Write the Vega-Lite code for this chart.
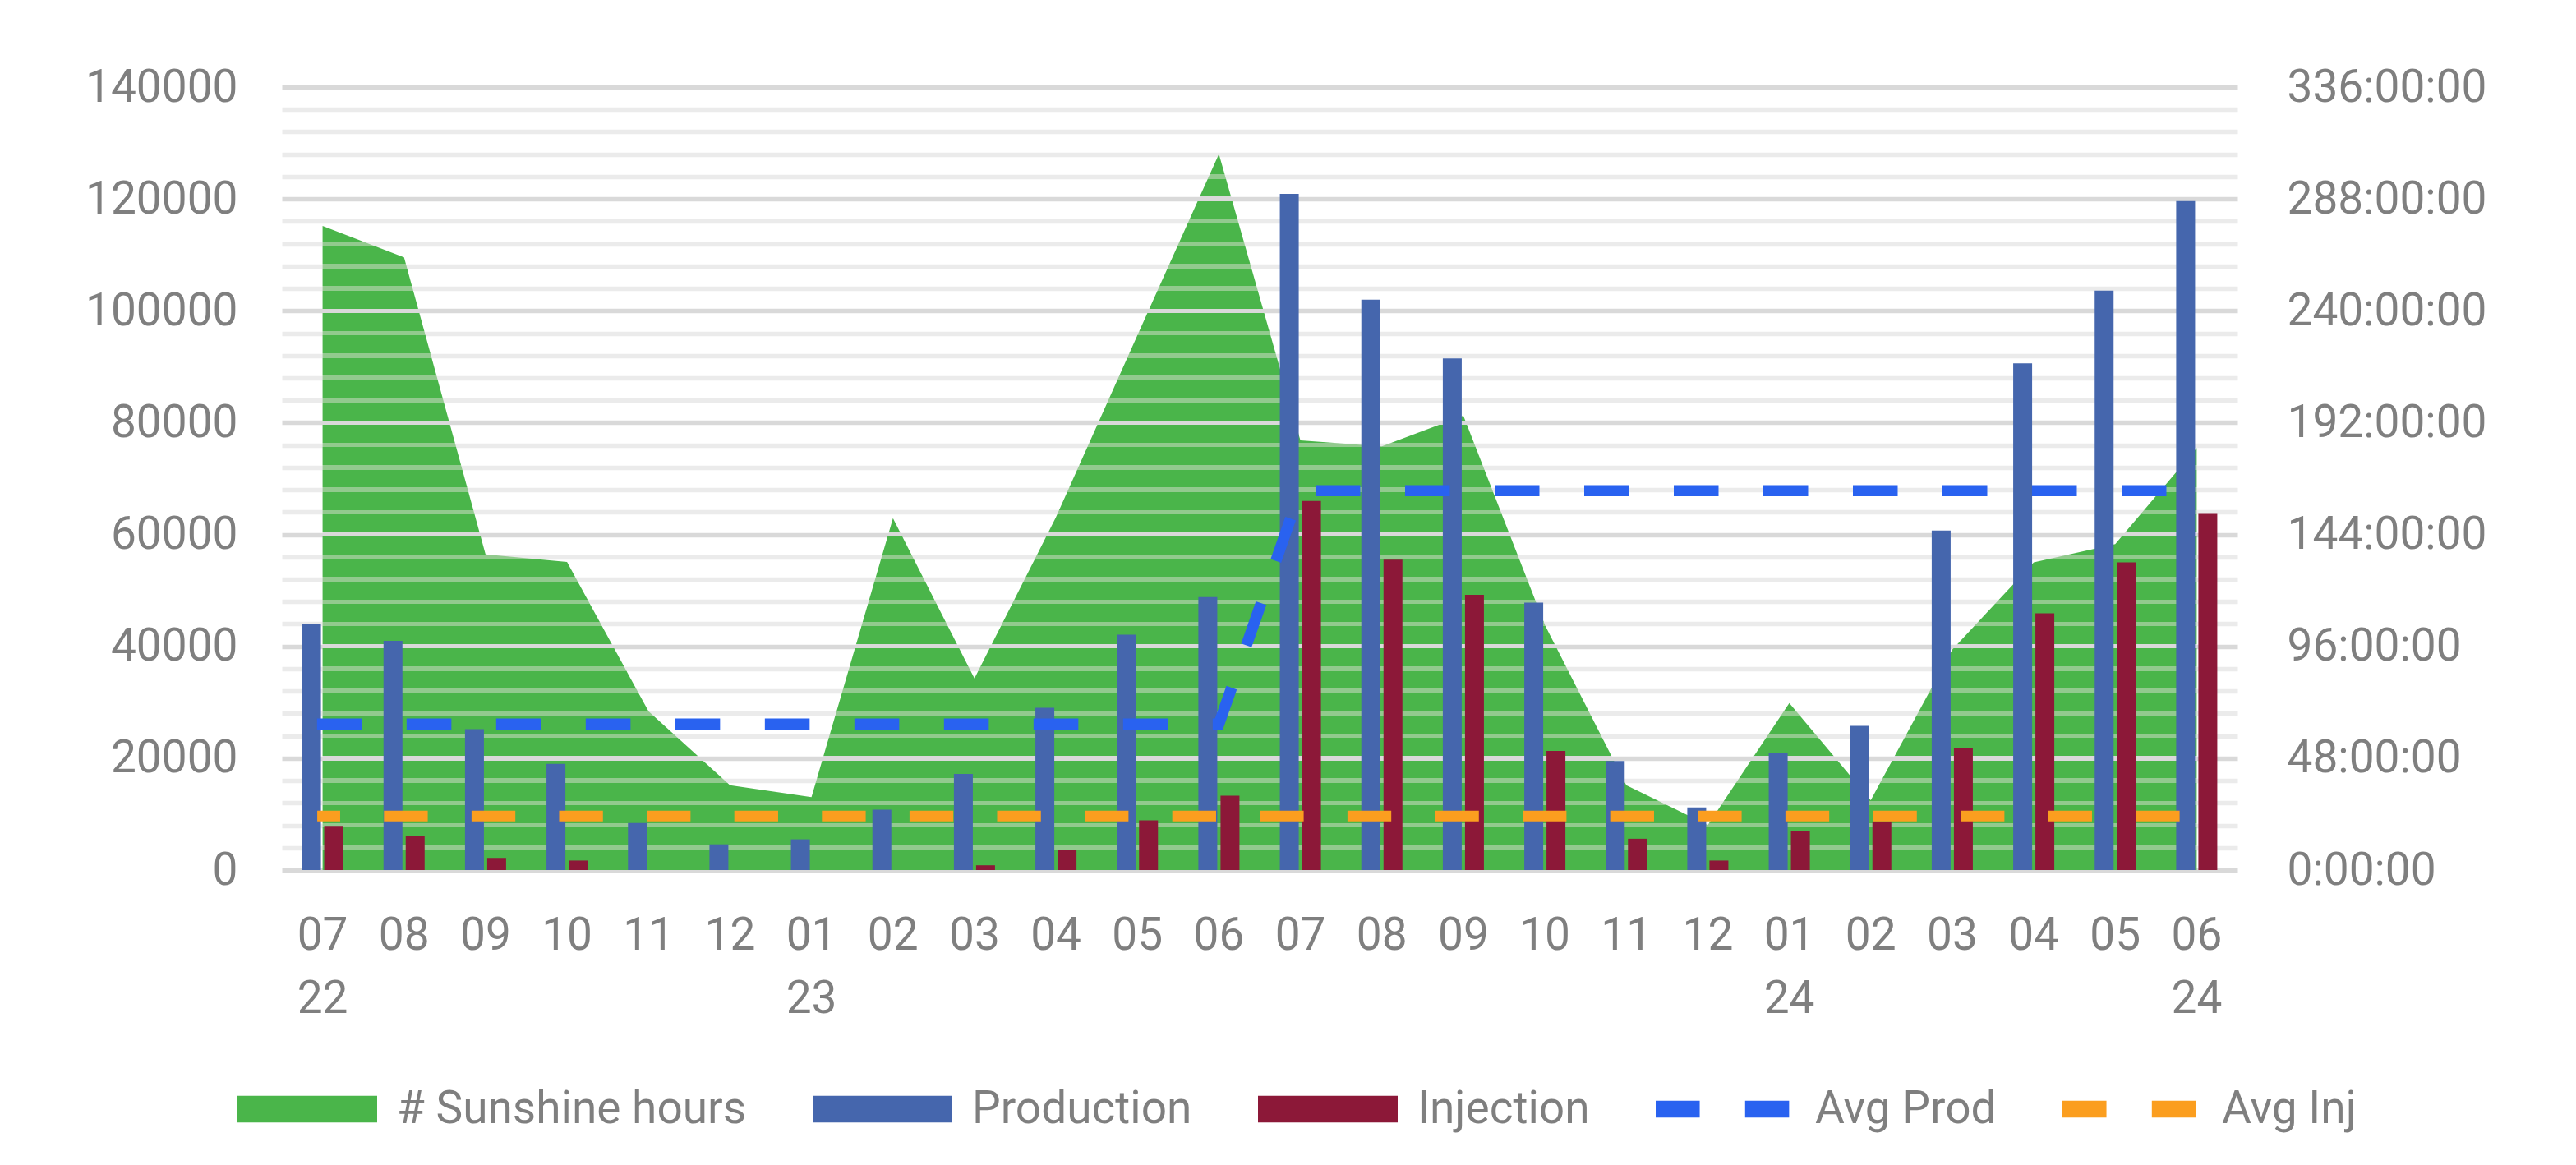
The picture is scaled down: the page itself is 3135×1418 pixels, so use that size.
{
  "$schema": "https://vega.github.io/schema/vega-lite/v6.json",
  "width": 2380,
  "height": 953,
  "autosize": {"type": "none"},
  "padding": {"left": 343, "top": 106, "right": 412, "bottom": 359},
  "background": "white",
  "datasets": {
    "main": [
      {"period": "2022-07", "series": "# Sunshine hours", "value": 276.4},
      {"period": "2022-08", "series": "# Sunshine hours", "value": 262.9},
      {"period": "2022-09", "series": "# Sunshine hours", "value": 135.5},
      {"period": "2022-10", "series": "# Sunshine hours", "value": 132.2},
      {"period": "2022-11", "series": "# Sunshine hours", "value": 68.1},
      {"period": "2022-12", "series": "# Sunshine hours", "value": 36.4},
      {"period": "2023-01", "series": "# Sunshine hours", "value": 31.3},
      {"period": "2023-02", "series": "# Sunshine hours", "value": 151.0},
      {"period": "2023-03", "series": "# Sunshine hours", "value": 82.2},
      {"period": "2023-04", "series": "# Sunshine hours", "value": 151.4},
      {"period": "2023-05", "series": "# Sunshine hours", "value": 229.5},
      {"period": "2023-06", "series": "# Sunshine hours", "value": 307.3},
      {"period": "2023-07", "series": "# Sunshine hours", "value": 184.4},
      {"period": "2023-08", "series": "# Sunshine hours", "value": 181.8},
      {"period": "2023-09", "series": "# Sunshine hours", "value": 195.0},
      {"period": "2023-10", "series": "# Sunshine hours", "value": 105.2},
      {"period": "2023-11", "series": "# Sunshine hours", "value": 36.4},
      {"period": "2023-12", "series": "# Sunshine hours", "value": 19.3},
      {"period": "2024-01", "series": "# Sunshine hours", "value": 71.7},
      {"period": "2024-02", "series": "# Sunshine hours", "value": 30.0},
      {"period": "2024-03", "series": "# Sunshine hours", "value": 94.6},
      {"period": "2024-04", "series": "# Sunshine hours", "value": 132.0},
      {"period": "2024-05", "series": "# Sunshine hours", "value": 139.9},
      {"period": "2024-06", "series": "# Sunshine hours", "value": 181.1},

      {"period": "2022-07", "series": "Production", "value": 44000},
      {"period": "2022-08", "series": "Production", "value": 41000},
      {"period": "2022-09", "series": "Production", "value": 25200},
      {"period": "2022-10", "series": "Production", "value": 19000},
      {"period": "2022-11", "series": "Production", "value": 8400},
      {"period": "2022-12", "series": "Production", "value": 4600},
      {"period": "2023-01", "series": "Production", "value": 5500},
      {"period": "2023-02", "series": "Production", "value": 10800},
      {"period": "2023-03", "series": "Production", "value": 17200},
      {"period": "2023-04", "series": "Production", "value": 29000},
      {"period": "2023-05", "series": "Production", "value": 42100},
      {"period": "2023-06", "series": "Production", "value": 48800},
      {"period": "2023-07", "series": "Production", "value": 120900},
      {"period": "2023-08", "series": "Production", "value": 102000},
      {"period": "2023-09", "series": "Production", "value": 91500},
      {"period": "2023-10", "series": "Production", "value": 47800},
      {"period": "2023-11", "series": "Production", "value": 19500},
      {"period": "2023-12", "series": "Production", "value": 11200},
      {"period": "2024-01", "series": "Production", "value": 21000},
      {"period": "2024-02", "series": "Production", "value": 25800},
      {"period": "2024-03", "series": "Production", "value": 60700},
      {"period": "2024-04", "series": "Production", "value": 90600},
      {"period": "2024-05", "series": "Production", "value": 103600},
      {"period": "2024-06", "series": "Production", "value": 119600},

      {"period": "2022-07", "series": "Injection", "value": 7900},
      {"period": "2022-08", "series": "Injection", "value": 6100},
      {"period": "2022-09", "series": "Injection", "value": 2150},
      {"period": "2022-10", "series": "Injection", "value": 1700},
      {"period": "2022-11", "series": "Injection", "value": 0},
      {"period": "2022-12", "series": "Injection", "value": 0},
      {"period": "2023-01", "series": "Injection", "value": 0},
      {"period": "2023-02", "series": "Injection", "value": 0},
      {"period": "2023-03", "series": "Injection", "value": 850},
      {"period": "2023-04", "series": "Injection", "value": 3550},
      {"period": "2023-05", "series": "Injection", "value": 8900},
      {"period": "2023-06", "series": "Injection", "value": 13300},
      {"period": "2023-07", "series": "Injection", "value": 66000},
      {"period": "2023-08", "series": "Injection", "value": 55500},
      {"period": "2023-09", "series": "Injection", "value": 49200},
      {"period": "2023-10", "series": "Injection", "value": 21300},
      {"period": "2023-11", "series": "Injection", "value": 5600},
      {"period": "2023-12", "series": "Injection", "value": 1700},
      {"period": "2024-01", "series": "Injection", "value": 7000},
      {"period": "2024-02", "series": "Injection", "value": 8700},
      {"period": "2024-03", "series": "Injection", "value": 21800},
      {"period": "2024-04", "series": "Injection", "value": 45900},
      {"period": "2024-05", "series": "Injection", "value": 55000},
      {"period": "2024-06", "series": "Injection", "value": 63700},

      {"period": "2022-07", "series": "Avg Prod", "value": 26100},
      {"period": "2022-08", "series": "Avg Prod", "value": 26100},
      {"period": "2022-09", "series": "Avg Prod", "value": 26100},
      {"period": "2022-10", "series": "Avg Prod", "value": 26100},
      {"period": "2022-11", "series": "Avg Prod", "value": 26100},
      {"period": "2022-12", "series": "Avg Prod", "value": 26100},
      {"period": "2023-01", "series": "Avg Prod", "value": 26100},
      {"period": "2023-02", "series": "Avg Prod", "value": 26100},
      {"period": "2023-03", "series": "Avg Prod", "value": 26100},
      {"period": "2023-04", "series": "Avg Prod", "value": 26100},
      {"period": "2023-05", "series": "Avg Prod", "value": 26100},
      {"period": "2023-06", "series": "Avg Prod", "value": 26100},
      {"period": "2023-07", "series": "Avg Prod", "value": 67850},
      {"period": "2023-08", "series": "Avg Prod", "value": 67850},
      {"period": "2023-09", "series": "Avg Prod", "value": 67850},
      {"period": "2023-10", "series": "Avg Prod", "value": 67850},
      {"period": "2023-11", "series": "Avg Prod", "value": 67850},
      {"period": "2023-12", "series": "Avg Prod", "value": 67850},
      {"period": "2024-01", "series": "Avg Prod", "value": 67850},
      {"period": "2024-02", "series": "Avg Prod", "value": 67850},
      {"period": "2024-03", "series": "Avg Prod", "value": 67850},
      {"period": "2024-04", "series": "Avg Prod", "value": 67850},
      {"period": "2024-05", "series": "Avg Prod", "value": 67850},
      {"period": "2024-06", "series": "Avg Prod", "value": 67850},

      {"period": "2022-07", "series": "Avg Inj", "value": 9650},
      {"period": "2022-08", "series": "Avg Inj", "value": 9650},
      {"period": "2022-09", "series": "Avg Inj", "value": 9650},
      {"period": "2022-10", "series": "Avg Inj", "value": 9650},
      {"period": "2022-11", "series": "Avg Inj", "value": 9650},
      {"period": "2022-12", "series": "Avg Inj", "value": 9650},
      {"period": "2023-01", "series": "Avg Inj", "value": 9650},
      {"period": "2023-02", "series": "Avg Inj", "value": 9650},
      {"period": "2023-03", "series": "Avg Inj", "value": 9650},
      {"period": "2023-04", "series": "Avg Inj", "value": 9650},
      {"period": "2023-05", "series": "Avg Inj", "value": 9650},
      {"period": "2023-06", "series": "Avg Inj", "value": 9650},
      {"period": "2023-07", "series": "Avg Inj", "value": 9650},
      {"period": "2023-08", "series": "Avg Inj", "value": 9650},
      {"period": "2023-09", "series": "Avg Inj", "value": 9650},
      {"period": "2023-10", "series": "Avg Inj", "value": 9650},
      {"period": "2023-11", "series": "Avg Inj", "value": 9650},
      {"period": "2023-12", "series": "Avg Inj", "value": 9650},
      {"period": "2024-01", "series": "Avg Inj", "value": 9650},
      {"period": "2024-02", "series": "Avg Inj", "value": 9650},
      {"period": "2024-03", "series": "Avg Inj", "value": 9650},
      {"period": "2024-04", "series": "Avg Inj", "value": 9650},
      {"period": "2024-05", "series": "Avg Inj", "value": 9650},
      {"period": "2024-06", "series": "Avg Inj", "value": 9650}
    ]
  },
  "data": {"name": "main"},
  "encoding": {
    "x": {
      "field": "period",
      "type": "ordinal",
      "title": null,
      "scale": {"type": "band", "paddingInner": 0, "paddingOuter": 0},
      "axis": {
        "domain": false,
        "ticks": false,
        "grid": false,
        "labelAngle": 0,
        "labelPadding": 53,
        "labelLineHeight": 77,
        "labelBaseline": "top",
        "labelExpr": "indexof(['2022-07','2023-01','2024-01','2024-06'], datum.value) >= 0 ? [substring(datum.value, 5, 7), substring(datum.value, 2, 4)] : substring(datum.value, 5, 7)"
      }
    }
  },
  "layer": [
    {
      "transform": [{"filter": "datum.series === '# Sunshine hours'"}],
      "mark": {
        "type": "area",
        "interpolate": "linear",
        "strokeWidth": 0,
        "fill": {
          "gradient": "linear",
          "x1": 0, "y1": 0, "x2": 0, "y2": 1,
          "stops": [
            {"offset": 0, "color": "#4ab54a"},
            {"offset": 0.02841, "color": "#4ab54a"}, {"offset": 0.02841, "color": "#92ca8e"}, {"offset": 0.03473, "color": "#92ca8e"}, {"offset": 0.03473, "color": "#4ab54a"},
            {"offset": 0.05965, "color": "#4ab54a"}, {"offset": 0.05965, "color": "#d9d9d9"}, {"offset": 0.06597, "color": "#d9d9d9"}, {"offset": 0.06597, "color": "#4ab54a"},
            {"offset": 0.09089, "color": "#4ab54a"}, {"offset": 0.09089, "color": "#92ca8e"}, {"offset": 0.09721, "color": "#92ca8e"}, {"offset": 0.09721, "color": "#4ab54a"},
            {"offset": 0.12213, "color": "#4ab54a"}, {"offset": 0.12213, "color": "#92ca8e"}, {"offset": 0.12845, "color": "#92ca8e"}, {"offset": 0.12845, "color": "#4ab54a"},
            {"offset": 0.15337, "color": "#4ab54a"}, {"offset": 0.15337, "color": "#92ca8e"}, {"offset": 0.15969, "color": "#92ca8e"}, {"offset": 0.15969, "color": "#4ab54a"},
            {"offset": 0.18461, "color": "#4ab54a"}, {"offset": 0.18461, "color": "#92ca8e"}, {"offset": 0.19093, "color": "#92ca8e"}, {"offset": 0.19093, "color": "#4ab54a"},
            {"offset": 0.21585, "color": "#4ab54a"}, {"offset": 0.21585, "color": "#d9d9d9"}, {"offset": 0.22217, "color": "#d9d9d9"}, {"offset": 0.22217, "color": "#4ab54a"},
            {"offset": 0.24709, "color": "#4ab54a"}, {"offset": 0.24709, "color": "#92ca8e"}, {"offset": 0.25341, "color": "#92ca8e"}, {"offset": 0.25341, "color": "#4ab54a"},
            {"offset": 0.27833, "color": "#4ab54a"}, {"offset": 0.27833, "color": "#92ca8e"}, {"offset": 0.28465, "color": "#92ca8e"}, {"offset": 0.28465, "color": "#4ab54a"},
            {"offset": 0.30957, "color": "#4ab54a"}, {"offset": 0.30957, "color": "#92ca8e"}, {"offset": 0.31589, "color": "#92ca8e"}, {"offset": 0.31589, "color": "#4ab54a"},
            {"offset": 0.34081, "color": "#4ab54a"}, {"offset": 0.34081, "color": "#92ca8e"}, {"offset": 0.34713, "color": "#92ca8e"}, {"offset": 0.34713, "color": "#4ab54a"},
            {"offset": 0.37205, "color": "#4ab54a"}, {"offset": 0.37205, "color": "#d9d9d9"}, {"offset": 0.37837, "color": "#d9d9d9"}, {"offset": 0.37837, "color": "#4ab54a"},
            {"offset": 0.40329, "color": "#4ab54a"}, {"offset": 0.40329, "color": "#92ca8e"}, {"offset": 0.40961, "color": "#92ca8e"}, {"offset": 0.40961, "color": "#4ab54a"},
            {"offset": 0.43453, "color": "#4ab54a"}, {"offset": 0.43453, "color": "#92ca8e"}, {"offset": 0.44085, "color": "#92ca8e"}, {"offset": 0.44085, "color": "#4ab54a"},
            {"offset": 0.46577, "color": "#4ab54a"}, {"offset": 0.46577, "color": "#92ca8e"}, {"offset": 0.47209, "color": "#92ca8e"}, {"offset": 0.47209, "color": "#4ab54a"},
            {"offset": 0.49701, "color": "#4ab54a"}, {"offset": 0.49701, "color": "#92ca8e"}, {"offset": 0.50333, "color": "#92ca8e"}, {"offset": 0.50333, "color": "#4ab54a"},
            {"offset": 0.52825, "color": "#4ab54a"}, {"offset": 0.52825, "color": "#d9d9d9"}, {"offset": 0.53457, "color": "#d9d9d9"}, {"offset": 0.53457, "color": "#4ab54a"},
            {"offset": 0.55949, "color": "#4ab54a"}, {"offset": 0.55949, "color": "#92ca8e"}, {"offset": 0.56581, "color": "#92ca8e"}, {"offset": 0.56581, "color": "#4ab54a"},
            {"offset": 0.59073, "color": "#4ab54a"}, {"offset": 0.59073, "color": "#92ca8e"}, {"offset": 0.59705, "color": "#92ca8e"}, {"offset": 0.59705, "color": "#4ab54a"},
            {"offset": 0.62197, "color": "#4ab54a"}, {"offset": 0.62197, "color": "#92ca8e"}, {"offset": 0.62829, "color": "#92ca8e"}, {"offset": 0.62829, "color": "#4ab54a"},
            {"offset": 0.65321, "color": "#4ab54a"}, {"offset": 0.65321, "color": "#92ca8e"}, {"offset": 0.65953, "color": "#92ca8e"}, {"offset": 0.65953, "color": "#4ab54a"},
            {"offset": 0.68445, "color": "#4ab54a"}, {"offset": 0.68445, "color": "#d9d9d9"}, {"offset": 0.69077, "color": "#d9d9d9"}, {"offset": 0.69077, "color": "#4ab54a"},
            {"offset": 0.71569, "color": "#4ab54a"}, {"offset": 0.71569, "color": "#92ca8e"}, {"offset": 0.72201, "color": "#92ca8e"}, {"offset": 0.72201, "color": "#4ab54a"},
            {"offset": 0.74693, "color": "#4ab54a"}, {"offset": 0.74693, "color": "#92ca8e"}, {"offset": 0.75325, "color": "#92ca8e"}, {"offset": 0.75325, "color": "#4ab54a"},
            {"offset": 0.77817, "color": "#4ab54a"}, {"offset": 0.77817, "color": "#92ca8e"}, {"offset": 0.78449, "color": "#92ca8e"}, {"offset": 0.78449, "color": "#4ab54a"},
            {"offset": 0.80941, "color": "#4ab54a"}, {"offset": 0.80941, "color": "#92ca8e"}, {"offset": 0.81573, "color": "#92ca8e"}, {"offset": 0.81573, "color": "#4ab54a"},
            {"offset": 0.84065, "color": "#4ab54a"}, {"offset": 0.84065, "color": "#d9d9d9"}, {"offset": 0.84697, "color": "#d9d9d9"}, {"offset": 0.84697, "color": "#4ab54a"},
            {"offset": 0.87189, "color": "#4ab54a"}, {"offset": 0.87189, "color": "#92ca8e"}, {"offset": 0.87821, "color": "#92ca8e"}, {"offset": 0.87821, "color": "#4ab54a"},
            {"offset": 0.90313, "color": "#4ab54a"}, {"offset": 0.90313, "color": "#92ca8e"}, {"offset": 0.90945, "color": "#92ca8e"}, {"offset": 0.90945, "color": "#4ab54a"},
            {"offset": 0.93437, "color": "#4ab54a"}, {"offset": 0.93437, "color": "#92ca8e"}, {"offset": 0.94069, "color": "#92ca8e"}, {"offset": 0.94069, "color": "#4ab54a"},
            {"offset": 0.96561, "color": "#4ab54a"}, {"offset": 0.96561, "color": "#92ca8e"}, {"offset": 0.97193, "color": "#92ca8e"}, {"offset": 0.97193, "color": "#4ab54a"},
            {"offset": 1, "color": "#4ab54a"}
          ]
        }
      },
      "encoding": {
        "y": {
          "field": "value",
          "type": "quantitative",
          "title": null,
          "scale": {"domain": [0, 336], "nice": false, "zero": true},
          "axis": {
            "orient": "right",
            "values": [0, 48, 96, 144, 192, 240, 288, 336],
            "labelExpr": "datum.value + ':00:00'",
            "labelAlign": "left",
            "labelPadding": 60,
            "labelLimit": 1000,
            "labelOverlap": false,
            "grid": false,
            "domain": false,
            "ticks": false
          }
        }
      }
    },
    {
      "encoding": {
        "y": {
          "field": "value",
          "type": "quantitative",
          "title": null,
          "scale": {"domain": [0, 140000], "nice": false, "zero": true},
          "axis": {
            "orient": "left",
            "values": [0, 4000, 8000, 12000, 16000, 20000, 24000, 28000, 32000, 36000, 40000, 44000, 48000, 52000, 56000, 60000, 64000, 68000, 72000, 76000, 80000, 84000, 88000, 92000, 96000, 100000, 104000, 108000, 112000, 116000, 120000, 124000, 128000, 132000, 136000, 140000],
            "labelExpr": "datum.value % 20000 === 0 ? '' + datum.value : ''",
            "labelOverlap": false,
            "labelLimit": 1000,
            "labelPadding": 54,
            "domain": false,
            "ticks": false,
            "grid": true,
            "gridWidth": 5.5,
            "gridColor": {"condition": {"test": "datum.value % 20000 === 0", "value": "#d9d9d9"}, "value": "#ebebeb"}
          }
        }
      },
      "layer": [
        {
          "transform": [{"filter": "datum.series === 'Production' || datum.series === 'Injection'"}],
          "mark": {"type": "bar"},
          "encoding": {
            "xOffset": {
              "field": "series",
              "type": "nominal",
              "scale": {"domain": ["Production", "Injection"], "paddingInner": 0.148, "paddingOuter": 0.91}
            },
            "color": {
              "field": "series",
              "type": "nominal",
              "scale": {
                "domain": ["# Sunshine hours", "Production", "Injection", "Avg Prod", "Avg Inj"],
                "range": ["#4ab54a", "#4566ad", "#8c1838", "#2962f0", "#fb9e1f"]
              },
              "legend": {
                "title": null,
                "orient": "none",
                "direction": "horizontal",
                "legendX": -54,
                "legendY": 1159,
                "symbolSize": 28900,
                "symbolStrokeWidth": 0,
                "symbolType": "M-1,-0.19L1,-0.19L1,0.19L-1,0.19Z",
                "labelOffset": 24,
                "columnPadding": 80,
                "labelLimit": 1000,
                "encode": {
                  "symbols": {
                    "update": {
                      "shape": {"signal": "(datum.value === 'Avg Prod' || datum.value === 'Avg Inj') ? 'M-1,-0.12L-0.37,-0.12L-0.37,0.12L-1,0.12Z M0.28,-0.12L0.91,-0.12L0.91,0.12L0.28,0.12Z' : 'M-1,-0.19L1,-0.19L1,0.19L-1,0.19Z'"},
                      "fill": {"scale": "color", "field": "value"},
                      "fillOpacity": {"value": 1},
                      "opacity": {"value": 1},
                      "stroke": {"value": "transparent"},
                      "strokeWidth": {"value": 0}
                    }
                  }
                }
              }
            }
          }
        },
        {
          "transform": [{"filter": "datum.series === 'Avg Prod'"}],
          "mark": {"type": "line", "strokeWidth": 13.5, "strokeDash": [41, 68], "strokeCap": "square"},
          "encoding": {
            "color": {"field": "series", "type": "nominal"}
          }
        },
        {
          "transform": [{"filter": "datum.series === 'Avg Inj'"}],
          "mark": {"type": "line", "strokeWidth": 13, "strokeDash": [40.3, 66.3], "strokeDashOffset": 25.4, "strokeCap": "square"},
          "encoding": {
            "color": {"field": "series", "type": "nominal"}
          }
        }
      ]
    }
  ],
  "resolve": {"scale": {"y": "independent"}},
  "config": {
    "font": "Roboto",
    "view": {"stroke": null},
    "axis": {"labelFont": "Roboto", "labelFontSize": 55, "labelColor": "#7f7f7f", "labelOverlap": false, "labelLimit": 1000},
    "legend": {"labelFont": "Roboto", "labelFontSize": 55, "labelColor": "#7f7f7f"}
  }
}
